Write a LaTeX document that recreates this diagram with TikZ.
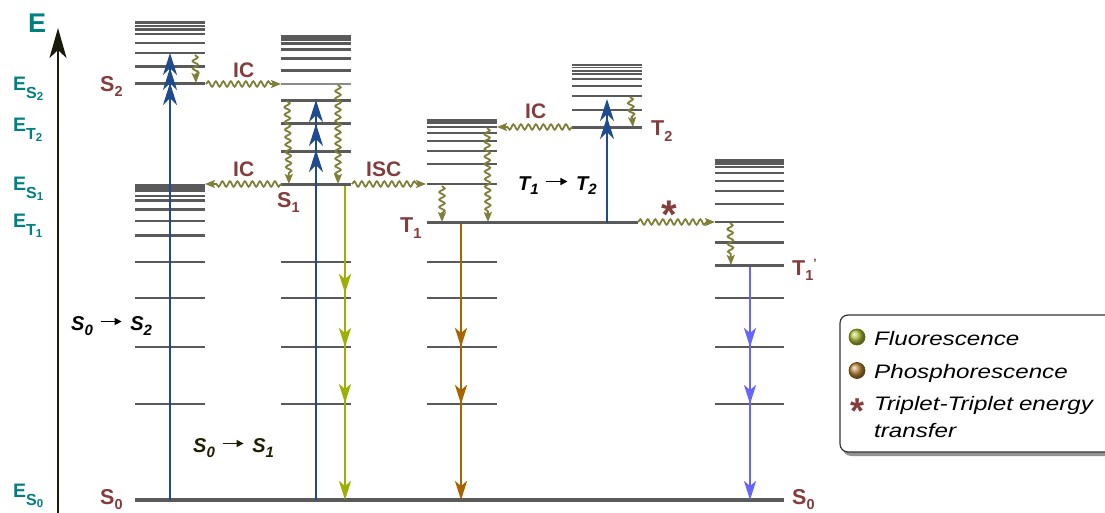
\documentclass[tikz,border=0pt]{standalone}
\usepackage{fontspec}
\setmainfont{Liberation Sans}
\newfontfamily\legendfont[FakeStretch=1.24]{Liberation Sans}
\usetikzlibrary{arrows.meta,decorations.pathmorphing,decorations.markings,shadows}

\definecolor{lvlgray}{HTML}{5A5A5A}
\definecolor{ecol}{HTML}{008080}
\definecolor{stcol}{HTML}{843C3C}
\definecolor{wavec}{HTML}{7F7F3A}
\definecolor{absblue}{HTML}{1F4B8E}
\definecolor{fluoc}{HTML}{9BB000}
\definecolor{phosc}{HTML}{A86400}
\definecolor{tttc}{HTML}{6666FF}
\definecolor{axisc}{HTML}{1A1A0A}
\definecolor{darkol}{HTML}{1F1F00}

\newcommand\fs[1]{\fontsize{#1}{#1}\selectfont}
% energy labels on the axis: E with a two-level subscript
\newcommand\Elabel[2]{{\fs{19.5}E}\raisebox{-8pt}{\fs{16}#1\raisebox{-2pt}{\fs{11.5}#2}}}
% state labels such as S_2, T_1
\newcommand\Slabel[2]{{\fs{21.5}#1}\raisebox{-5.5pt}{\fs{14.5}#2}}
% small arrow inside the transition labels
\newcommand\smallarrow{\tikz[baseline=-8.5pt]\draw[line width=1.4pt,-{Triangle[length=7pt,width=7pt]}] (0pt,0pt) -- (21pt,0pt);}
\newcommand\Trans[4]{{\fs{20}#1}\raisebox{-5pt}{\fs{15}#2}\hspace{7pt}\smallarrow\hspace{8pt}{\fs{20}#3}\raisebox{-5pt}{\fs{15}#4}}

\tikzset{
  upTip/.tip={Stealth[length=22pt,width=14pt,inset=7pt]},
  dnTip/.tip={Stealth[length=19pt,width=12pt,inset=5pt]},
}

\begin{document}
\begin{tikzpicture}[x=1pt,y=-1pt,
  lvl/.style={draw=lvlgray},
  wave/.style={draw=wavec, line width=1.8pt, decorate,
    decoration={snake, amplitude=2.7pt, segment length=7.5pt, post length=8pt},
    -{Stealth[length=10pt,width=8pt,inset=2pt]}},
  absorb/.style={color=absblue, line width=2.5pt, -upTip},
  emit/.style={color=#1, line width=2.6pt, -dnTip},
  up head/.style={postaction={decorate, decoration={markings,
    mark=at position #1 with {\arrow{upTip}}}}},
  dn head/.style={postaction={decorate, decoration={markings,
    mark=at position #1 with {\arrow{dnTip}}}}},
  lab/.style={inner sep=0pt, anchor=base west},
  elab/.style={lab, text=ecol, font=\bfseries},
  slab/.style={lab, text=stcol, font=\bfseries},
  tlab/.style={lab, font=\bfseries\itshape},
  leg/.style={lab, font=\legendfont\itshape\fs{19.5}},
]
\useasboundingbox (0,0) rectangle (1105,513);
\fill[white] (0,0) rectangle (1105,513);

% energy axis
\coordinate (axisBot) at (58,513);
\coordinate (axisTop) at (58,28);
\draw[axisc, line width=2.2pt, -{Stealth[length=30pt,width=17pt,inset=8pt]}] (axisBot) -- (axisTop);

\node[elab] (lE)   at (28,33)  {\fs{27}E};
\node[elab] (lES2) at (13,91)  {\Elabel{S}{2}};
\node[elab] (lET2) at (13,132) {\Elabel{T}{2}};
\node[elab] (lES1) at (13,190) {\Elabel{S}{1}};
\node[elab] (lET1) at (13,227) {\Elabel{T}{1}};
\node[elab] (lES0) at (13,497) {\Elabel{S}{0}};

% vibrational levels, stack by stack
\newcommand\levels[3]{\foreach \yy/\ww in {#3} \draw[lvl, line width=\ww pt] (#1,\yy) -- (#2,\yy);}
\levels{135}{205}{22.5/3.2, 26.3/2, 29.5/2.4, 34/2.4, 43/2.4, 53/2.4, 66.5/2.4, 84/3,
  188/7.5, 195.9/1.8, 200.3/2.6, 209.3/2.6, 221.2/2.4, 235.5/2.4, 262/2.8, 298/1.6, 347/2.8, 404/2.8}
\levels{281}{351}{37.8/5.5, 43.3/2.6, 49.5/2.4, 58.5/2.4, 70.5/2.4, 100.5/2.6, 123.5/2.6, 151.5/2.6,
  184.7/2.8, 262/2.8, 298/2.8, 347/2.8, 404/2.8}
\draw[draw=lvlgray!70, line width=1.6pt] (281,84.2) -- (351,84.2);
\levels{427}{497}{121.3/5.3, 127.3/2.4, 133.2/2.4, 141.2/2.4, 151.2/2.4, 163.8/2.4, 184.2/2.6,
  262/2.8, 298/2.8, 347/2.8, 404/1.8}
\draw[lvl, line width=3pt] (427,222.5) -- (638,222.5);
\levels{572}{642}{65/2, 67.5/1.6, 70.8/1.6, 74.3/1.8, 79/2, 86.2/2.2, 96.2/2.2, 110/2.4, 127.3/2.8}
\levels{715}{784}{162/6, 167.3/2.4, 173.3/2.4, 181.3/2.4, 191.3/2.4, 204/2.4, 222/2.6, 242.3/2.6,
  265.7/2.8, 297.8/1.8, 347/2.8, 404/2.8}
\draw[lvl, line width=3.2pt] (135,500) -- (784,500);

% state labels
\node[slab] (lS2)  at (100,91.5) {\Slabel{S}{2}};
\node[slab] (lS1)  at (277,207.5) {\Slabel{S}{1}};
\node[slab] (lT1)  at (400,233) {\Slabel{T}{1}};
\node[slab] (lT2)  at (651,136) {\Slabel{T}{2}};
\node[slab] (lT1p) at (792,275) {\Slabel{T}{1}\raisebox{8pt}{\fs{12}'}};
\node[slab] (lS0a) at (100,504) {\Slabel{S}{0}};
\node[slab] (lS0b) at (792,504) {\Slabel{S}{0}};

% absorption
\coordinate (a0) at (170,500);  \coordinate (a2) at (170,53);
\coordinate (b0) at (316,500);  \coordinate (b1) at (316,100);
\coordinate (c1) at (607,222.5); \coordinate (c2) at (607,99);
\draw[absorb, up head=-15pt, up head=-30pt] (a0) -- (a2);
\draw[absorb, up head=-24pt, up head=-50pt] (b0) -- (b1);
\draw[absorb, up head=-18pt] (c1) -- (c2);

% emission
\coordinate (f1) at (345,186);   \coordinate (f0) at (345,500);
\coordinate (p1) at (461,224);   \coordinate (p0) at (461,500);
\coordinate (q1) at (750,267);   \coordinate (q0) at (750,500);
\draw[emit=fluoc, dn head=107pt, dn head=161pt, dn head=217pt] (f1) -- (f0);
\draw[emit=phosc, dn head=123pt, dn head=180pt] (p1) -- (p0);
\draw[emit=tttc, dn head=80pt, dn head=137pt] (q1) -- (q0);

% non-radiative steps
\coordinate (w1a) at (195,55);  \coordinate (w1b) at (196,83);
\coordinate (w2a) at (206,84);  \coordinate (w2b) at (281,84);
\coordinate (w3a) at (287,101); \coordinate (w3b) at (289,184);
\coordinate (w4a) at (338,85);  \coordinate (w4b) at (338,184);
\coordinate (w5a) at (281,184); \coordinate (w5b) at (205,184);
\coordinate (w6a) at (352,184); \coordinate (w6b) at (426,184);
\coordinate (w7a) at (442,186); \coordinate (w7b) at (442,222);
\coordinate (w8a) at (487,128); \coordinate (w8b) at (488,222);
\coordinate (w9a) at (572,127); \coordinate (w9b) at (497,127);
\coordinate (w10a) at (630,97); \coordinate (w10b) at (633,127);
\coordinate (w11a) at (638,222); \coordinate (w11b) at (715,222);
\coordinate (w12a) at (730,223); \coordinate (w12b) at (731,265);
\foreach \i in {1,...,12} \draw[wave] (w\i a) -- (w\i b);

\node[slab] (lIC1) at (233,78)  {\fs{21}IC};
\node[slab] (lIC2) at (233,177) {\fs{21}IC};
\node[slab] (lISC) at (366,177) {\fs{21}ISC};
\node[slab] (lIC3) at (525,119) {\fs{21}IC};
\node[slab, anchor=base] (lStar) at (669.5,229) {\fs{40}*};

% transition labels
\node[tlab] (tr02) at (71,330)  {\Trans{S}{0}{S}{2}};
\node[tlab, text=darkol] (tr01) at (193,452) {\Trans{S}{0}{S}{1}};
\node[tlab] (tr12) at (518,190) {\Trans{T}{1}{T}{2}};

% legend
\begin{scope}
\clip (0,0) rectangle (1105,513);
\draw[rounded corners=8pt, fill=white, draw=black!80, line width=1.2pt,
  drop shadow={shadow xshift=3pt, shadow yshift=-4pt, fill=black!60, opacity=0.7}]
  (840,315) rectangle (1114,452);
\end{scope}
\shade[ball color=fluoc!75!white] (857,337) circle (8pt);
\draw[fluoc!60!black, line width=0.7pt] (857,337) circle (8pt);
\shade[ball color=phosc!75!white] (857,370.5) circle (8pt);
\draw[phosc!60!black, line width=0.7pt] (857,370.5) circle (8pt);
\node[slab, anchor=base] (legStar) at (857.5,423) {\fs{36}*};
\node[leg] (lgF) at (874,345) {Fluorescence};
\node[leg] (lgP) at (874,378) {Phosphorescence};
\node[leg] (lgT) at (874,410) {Triplet-Triplet\hspace{6pt}energy};
\node[leg] (lgT2) at (874,437) {transfer};
\end{tikzpicture}
\end{document}
